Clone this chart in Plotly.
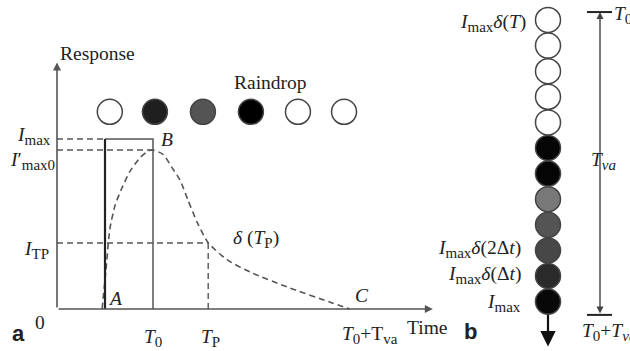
import plotly.graph_objects as go

# ---------------- Panel a data (time units, response with Imax = 1) ----------------
t_A = 1.0
t_T0 = 2.0
t_TP = 3.15
t_C = 6.10
t_axis_end = 7.83
r_axis_end = 1.45
I_max = 1.0
I_max0p = 0.935
I_TP = 0.388

curve_t = [0.94, 1.02, 1.10, 1.21, 1.35, 1.52, 1.73, 1.90, 2.00, 2.21, 2.40,
           2.56, 2.73, 2.92, 3.15, 3.54, 4.08, 4.79, 5.69, 6.10]
curve_r = [0.0, 0.23, 0.47, 0.61, 0.71, 0.81, 0.89, 0.93, 0.935, 0.91, 0.83,
           0.76, 0.64, 0.51, 0.39, 0.29, 0.21, 0.13, 0.04, 0.0]

raindrop_t = [1.10, 2.04, 3.04, 4.04, 5.02, 5.98]
raindrop_level = 1.16
raindrop_intensity = [0.0, 0.88, 0.67, 1.0, 0.0, 0.0]

# ---------------- Panel b data (time steps) ----------------
column_steps = list(range(12))
column_intensity = [0.0, 0.0, 0.0, 0.0, 0.0, 0.98, 0.98, 0.53, 0.67, 0.72, 0.83, 0.97]
tva_start = -0.31
tva_end = 11.52
drop_arrow_from = 11.45
drop_arrow_to = 12.75


def gray(v):
    g = round(255 * (1 - v))
    return f"rgb({g},{g},{g})"


def sub(t):
    return f"<sub><span style='font-size:15px'>{t}</span></sub>"


LINE = "#555555"
TXT = "#222222"
SERIF = "Liberation Serif"

fig = go.Figure()

# dashed response curve
fig.add_trace(go.Scatter(x=curve_t, y=curve_r, mode="lines",
                         line=dict(color=LINE, width=1.6, dash="6px,4px", shape="spline", smoothing=0.6),
                         xaxis="x", yaxis="y", hoverinfo="skip"))
# dashed reference lines
for xs, ys in [([0, t_A], [I_max, I_max]),
               ([0, t_T0], [I_max0p, I_max0p]),
               ([0, t_TP], [I_TP, I_TP]),
               ([t_TP, t_TP], [0, I_TP])]:
    fig.add_trace(go.Scatter(x=xs, y=ys, mode="lines",
                             line=dict(color=LINE, width=1.4, dash="6px,4px"),
                             xaxis="x", yaxis="y", hoverinfo="skip"))
# rectangle (rain pulse)
fig.add_trace(go.Scatter(x=[t_A, t_T0, t_T0], y=[I_max, I_max, 0], mode="lines",
                         line=dict(color=LINE, width=1.5), xaxis="x", yaxis="y", hoverinfo="skip"))
fig.add_trace(go.Scatter(x=[t_A, t_A], y=[0, I_max], mode="lines",
                         line=dict(color="#222222", width=2.2), xaxis="x", yaxis="y", hoverinfo="skip"))
# raindrop row
fig.add_trace(go.Scatter(x=raindrop_t, y=[raindrop_level] * len(raindrop_t), mode="markers",
                         marker=dict(size=25, color=[gray(v) for v in raindrop_intensity],
                                     line=dict(color="#444444", width=1.5)),
                         xaxis="x", yaxis="y", hoverinfo="skip"))

# raindrop column (panel b)
fig.add_trace(go.Scatter(x=[0] * len(column_steps), y=column_steps, mode="markers",
                         marker=dict(size=25, color=[gray(v) for v in column_intensity],
                                     line=dict(color="#444444", width=1.5)),
                         xaxis="x2", yaxis="y2", hoverinfo="skip"))
# Tva bars
for k in [tva_start, tva_end]:
    fig.add_trace(go.Scatter(x=[39, 64], y=[k, k], mode="lines",
                             line=dict(color="#222222", width=2),
                             xaxis="x2", yaxis="y2", hoverinfo="skip"))

ann = []
# axes arrows (panel a)
ann.append(dict(x=0, y=r_axis_end, ax=0, ay=0, xref="x", yref="y", axref="x", ayref="y",
                text="", showarrow=True, arrowhead=2, arrowsize=1, arrowwidth=1.6, arrowcolor=LINE))
ann.append(dict(x=t_axis_end, y=0, ax=0, ay=0, xref="x", yref="y", axref="x", ayref="y",
                text="", showarrow=True, arrowhead=2, arrowsize=1, arrowwidth=1.6, arrowcolor=LINE))
# Tva double arrow (panel b)
ann.append(dict(x=52, y=tva_start, ax=52, ay=tva_end, xref="x2", yref="y2", axref="x2", ayref="y2",
                text="", showarrow=True, arrowhead=2, startarrowhead=2, arrowside="end+start",
                arrowsize=1, arrowwidth=1.4, arrowcolor="#444444"))
# column down arrow
ann.append(dict(x=0, y=drop_arrow_to, ax=0, ay=drop_arrow_from, xref="x2", yref="y2", axref="x2", ayref="y2",
                text="", showarrow=True, arrowhead=2, arrowsize=1.4, arrowwidth=2.2, arrowcolor="#111111"))


def lab(text, x, y, xref="x", yref="y", size=19.5, xanchor="center", yanchor="middle", family=SERIF):
    ann.append(dict(text=text, x=x, y=y, xref=xref, yref=yref, showarrow=False,
                    xanchor=xanchor, yanchor=yanchor, font=dict(family=family, size=size, color=TXT)))


# panel a labels
lab("Response", 0.85, 1.50)
lab("Raindrop", 4.44, 1.33)
lab("<i>B</i>", 2.29, 1.0)
lab("<i>A</i>", 1.21, 0.06)
lab("<i>C</i>", 6.35, 0.08)
lab("<i>δ</i> (<i>T</i>" + sub("P") + ")", 4.15, 0.41)
lab("<i>I</i>" + sub("max"), -0.08, 1.02, xanchor="right")
lab("<i>I</i>′" + sub("max0"), 0.0, 0.87, xanchor="right")
lab("<i>I</i>" + sub("TP"), -0.12, 0.35, xanchor="right")
lab("0", -0.35, -0.08)
lab("<i>T</i>" + sub("0"), t_T0, -0.17)
lab("<i>T</i>" + sub("P"), t_TP + 0.04, -0.17)
lab("<i>T</i>" + sub("0") + "+T" + sub("va"), 6.52, -0.15)
lab("Time", 7.71, -0.11)

# panel b labels
lab("<i>I</i>" + sub("max") + "<i>δ</i>(<i>T</i>)", -20, 0.1, xref="x2", yref="y2", xanchor="right")
lab("<i>I</i>" + sub("max") + "<i>δ</i>(2Δ<i>t</i>)", -25, 8.95, xref="x2", yref="y2", xanchor="right")
lab("<i>I</i>" + sub("max") + "<i>δ</i>(Δ<i>t</i>)", -25, 9.95, xref="x2", yref="y2", xanchor="right")
lab("<i>I</i>" + sub("max"), -25, 11.05, xref="x2", yref="y2", xanchor="right")
lab("<i>T</i>" + sub("0"), 64, tva_start + 0.1, xref="x2", yref="y2", xanchor="left")
lab("<i>T</i>" + sub("<i>va</i>"), 55, 5.5, xref="x2", yref="y2")
lab("<i>T</i>" + sub("0") + "+<i>T</i>" + sub("<i>va</i>"), 61, 12.2, xref="x2", yref="y2")

# panel letters
lab("<b>a</b>", 18 / 630, 1 - 333 / 351, xref="paper", yref="paper", size=22, family="Liberation Sans")
lab("<b>b</b>", 470 / 630, 1 - 331 / 351, xref="paper", yref="paper", size=22, family="Liberation Sans")

hidden = dict(visible=False, showgrid=False, zeroline=False, fixedrange=True)
fig.update_layout(
    width=630, height=351,
    margin=dict(l=0, r=0, t=0, b=0),
    paper_bgcolor="white", plot_bgcolor="white",
    showlegend=False,
    xaxis=dict(domain=[0, 0.7], range=[-1.1875, 8.0], **hidden),
    yaxis=dict(domain=[0, 1], range=[-0.247, 1.8176], **hidden),
    xaxis2=dict(domain=[0.7, 1], range=[-107, 82], anchor="y2", **hidden),
    yaxis2=dict(domain=[0, 1], range=[12.93, -0.781], anchor="x2", **hidden),
    annotations=ann,
)

fig.write_html("out.html", config={"displayModeBar": False},
               post_script="document.body.style.margin='0px';document.body.style.overflow='hidden';")
